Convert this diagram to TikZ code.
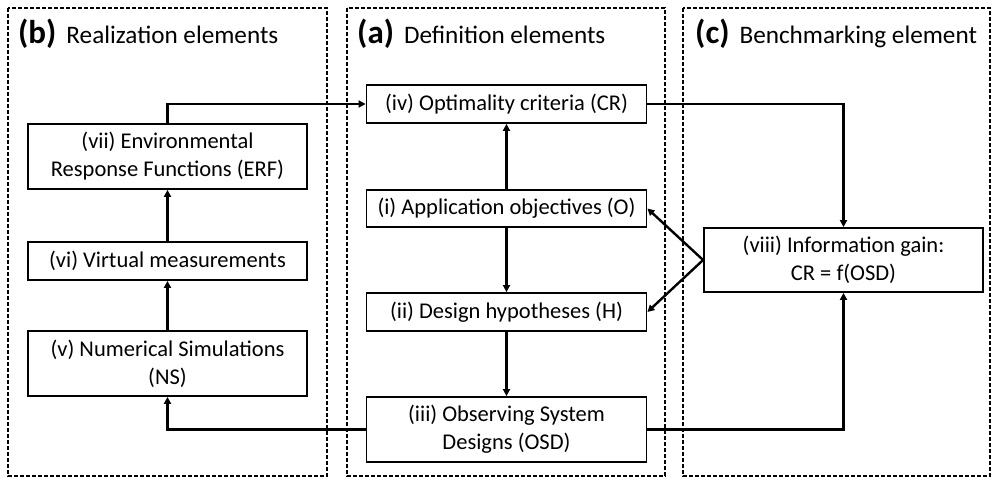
\documentclass[tikz,border=0pt]{standalone}
\usepackage{fontspec}
\setmainfont{Carlito}
\usetikzlibrary{arrows.meta}
\begin{document}
\begin{tikzpicture}[x=1pt,y=-1pt,
  panel/.style={draw, line width=1.2pt, dash pattern=on 4pt off 2pt},
  elem/.style={draw, line width=1.8pt, inner sep=0pt, align=center,
    minimum width=279pt, font=\fontsize{22.5}{28}\selectfont},
  conn/.style={line width=2.4pt, -{Triangle[length=7pt,width=7pt]}},
  head/.style={anchor=base west, inner sep=0pt}]
\useasboundingbox (0,0) rectangle (993,478);
% panels
\draw[panel] (8,8) rectangle (327,476);
\draw[panel] (347,8) rectangle (665,476);
\draw[panel] (683,8) rectangle (990,476);
% headings
\node[head] (hb) at (18,44) {{\bfseries\fontsize{33}{33}\selectfont (b)}\hspace{10pt}{\fontsize{25.2}{25}\selectfont Realization elements}};
\node[head] (ha) at (357,44) {{\bfseries\fontsize{33}{33}\selectfont (a)}\hspace{10pt}{\fontsize{25.2}{25}\selectfont Definition elements}};
\node[head] (hc) at (695,44) {{\bfseries\fontsize{33}{33}\selectfont (c)}\hspace{10pt}{\fontsize{25.2}{25}\selectfont Benchmarking element}};
% boxes
\node[elem, minimum height=65pt] (erf) at (167.5,156.5) {(vii) Environmental\\Response Functions (ERF)};
\node[elem, minimum height=38pt] (vm) at (167.5,261) {(vi) Virtual measurements};
\node[elem, minimum height=65pt] (ns) at (167.5,363.5) {(v) Numerical Simulations\\(NS)};
\node[elem, minimum width=280pt, minimum height=38pt] (cr) at (506.5,104) {(iv) Optimality criteria (CR)};
\node[elem, minimum width=280pt, minimum height=37pt] (ao) at (506.5,208.5) {(i) Application objectives (O)};
\node[elem, minimum width=280pt, minimum height=38pt] (dh) at (506.5,312) {(ii) Design hypotheses (H)};
\node[elem, minimum width=280pt, minimum height=65pt] (osd) at (506.5,429.5) {(iii) Observing System\\Designs (OSD)};
\node[elem, minimum height=64pt] (ig) at (843.5,260) {(viii) Information gain:\\CR = f(OSD)};
% connectors
\draw[conn] (vm.north) -- (erf.south);
\draw[conn] (ns.north) -- (vm.south);
\draw[conn] (erf.north) |- (cr.west);
\draw[conn] (ao.north) -- (cr.south);
\draw[conn] (ao.south) -- (dh.north);
\draw[conn] (dh.south) -- (osd.north);
\draw[conn] (osd.west) -| (ns.south);
\draw[conn] (osd.east) -| (ig.south);
\draw[conn] (cr.east) -| (ig.north);
\draw[conn] (ig.west) -- (ao.east);
\draw[conn] (ig.west) -- (dh.east);
\end{tikzpicture}
\end{document}
